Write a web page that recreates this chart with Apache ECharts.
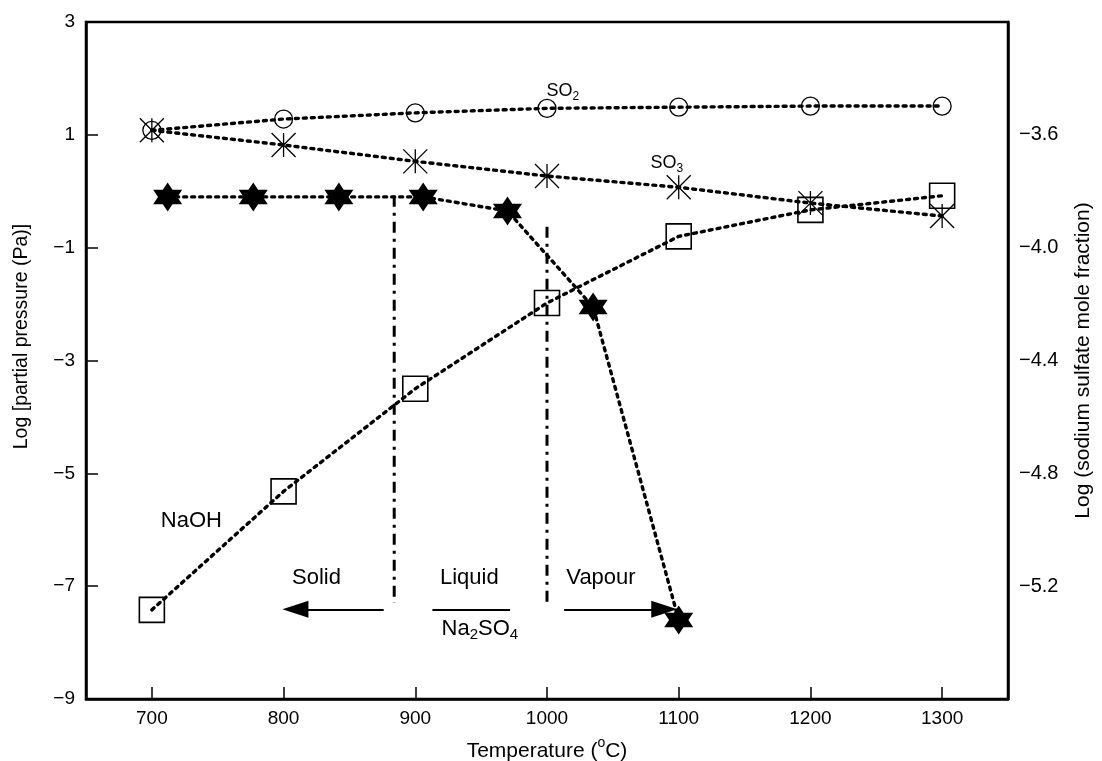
<!DOCTYPE html>
<html><head><meta charset="utf-8">
<script src="https://cdn.jsdelivr.net/npm/echarts@6/dist/echarts.min.js"></script>
<style>html,body{margin:0;padding:0;background:#fff}#c{width:1102px;height:761px}</style>
</head><body><div id="c"></div>
<script>
// ---- data ----
const temps = [700, 800, 900, 1000, 1100, 1200, 1300];
const so2 = [1.08, 1.28, 1.39, 1.47, 1.49, 1.51, 1.51];
const so3 = [1.08, 0.82, 0.53, 0.27, 0.07, -0.21, -0.44];
const naoh = [-7.42, -5.32, -3.5, -1.98, -0.8, -0.33, -0.08];
const na2so4Temps = [712, 777, 842, 906, 970, 1035, 1100];
const na2so4Frac = [-3.82, -3.82, -3.82, -3.82, -3.87, -4.21, -5.32];
const boundaryTemps = [884, 1000];
const boundaryTop = [-0.08, -0.63];
const boundaryBottom = [-7.3, -7.3];
const xTicks = [700, 800, 900, 1000, 1100, 1200, 1300];
const leftTicks = [-9, -7, -5, -3, -1, 1, 3];
const rightTicks = [-5.2, -4.8, -4.4, -4.0, -3.6];
// annotations
const noteText = ['{u|SO}{v|2}', '{u|SO}{v|3}', '{t|NaOH}', '{t|Solid}', '{t|Liquid}', '{t|Vapour}', '{t|Na}{s|2}{t|SO}{s|4}'];
const noteT = [1012, 1091, 730, 825, 941, 1041, 949];
const noteY = [1.76, 0.49, -5.86, -6.87, -6.87, -6.87, -7.77];
const arrowY = -7.41;
const arrowFrom = [876, 1013];
const arrowTo = [809, 1089];
const liquidBar = [913, 972];

const FONT = 'Liberation Sans, Arial, Helvetica, sans-serif';
const pair = (xs, ys) => xs.map((x, i) => [x, ys[i]]);
const minus = s => String(s).replace('-', '\u2212');

const dotted = { color: '#000', width: 3.4, type: [3, 5], cap: 'round' };
const hollow = { color: 'rgba(0,0,0,0)', borderColor: '#000', borderWidth: 1.3, opacity: 1 };

const SYM_CIRCLE = 'path://M20,10A10,10 0 1 1 0,10A10,10 0 1 1 20,10Z';
const SYM_SQUARE = 'path://M0,0L20,0L20,20L0,20Z';
const SYM_AST = 'path://M10,0L10,20M0,0L20,20M0,20L20,0';
const SYM_STAR = 'path://M10,0L12.887,5L18.66,5L15.774,10L18.66,15L12.887,15L10,20L7.113,15L1.34,15L4.226,10L1.34,5L7.113,5Z';

const rich = {
  t: { fontSize: 22, color: '#000', fontFamily: FONT, verticalAlign: 'top', lineHeight: 24 },
  s: { fontSize: 15, color: '#000', fontFamily: FONT, verticalAlign: 'top', padding: [10, 0, 0, 0], lineHeight: 16 },
  u: { fontSize: 18, color: '#000', fontFamily: FONT, verticalAlign: 'top', lineHeight: 20 },
  v: { fontSize: 12, color: '#000', fontFamily: FONT, verticalAlign: 'top', padding: [9, 0, 0, 0], lineHeight: 13 }
};

const chart = echarts.init(document.getElementById('c'), null, { renderer: 'canvas' });
const boundarySeries = boundaryTemps.map((t, i) => ({
  type: 'line', yAxisIndex: 0, silent: true, symbol: 'none',
  data: [[t, boundaryTop[i]], [t, boundaryBottom[i]]],
  lineStyle: { color: '#000', width: 3, type: [11, 6, 3, 6] }, z: 1
}));

chart.setOption({
  animation: false,
  backgroundColor: '#fff',
  textStyle: { fontFamily: FONT },
  grid: { left: 86, right: 94, top: 22, bottom: 62, containLabel: false, outerBoundsMode: 'none', show: true, borderColor: '#000', borderWidth: 2.5, backgroundColor: 'transparent' },
  xAxis: {
    type: 'value', min: 650, max: 1350,
    name: '{a|Temperature (}{b|o}{a|C)}', nameLocation: 'middle', nameGap: 37,
    nameTextStyle: { rich: { a: { fontSize: 21, color: '#000', fontFamily: FONT, verticalAlign: 'top', padding: [5, 0, 0, 0] }, b: { fontSize: 14, color: '#000', fontFamily: FONT, verticalAlign: 'top' } } },
    axisLine: { show: true, onZero: false, lineStyle: { color: '#000', width: 2.5 } },
    axisTick: { show: true, inside: true, length: 12, customValues: xTicks, lineStyle: { color: '#000', width: 1.5 } },
    axisLabel: { customValues: xTicks, formatter: v => String(v), fontSize: 19, color: '#000', margin: 10, fontFamily: FONT },
    splitLine: { show: false }
  },
  yAxis: [{
    type: 'value', min: -9, max: 3, position: 'left',
    name: 'Log [partial pressure (Pa)]', nameLocation: 'middle', nameGap: 54, nameRotate: 90,
    nameTextStyle: { fontSize: 19.5, color: '#000', fontFamily: FONT, padding: [0, 0, 0, 48] },
    axisLine: { show: true, onZero: false, lineStyle: { color: '#000', width: 2.5 } },
    axisTick: { show: true, inside: true, length: 12, customValues: leftTicks, lineStyle: { color: '#000', width: 1.5 } },
    axisLabel: { customValues: leftTicks, formatter: v => minus(v), fontSize: 19, color: '#000', margin: 11, fontFamily: FONT },
    splitLine: { show: false }
  }, {
    type: 'value', min: -5.6, max: -3.2, position: 'right',
    name: 'Log (sodium sulfate mole fraction)', nameLocation: 'middle', nameGap: 65, nameRotate: 90,
    nameTextStyle: { fontSize: 21, color: '#000', fontFamily: FONT },
    axisLine: { show: true, onZero: false, lineStyle: { color: '#000', width: 2.5 } },
    axisTick: { show: false },
    axisLabel: { customValues: rightTicks, formatter: v => minus(v.toFixed(1)), fontSize: 20, color: '#000', margin: 11, fontFamily: FONT },
    splitLine: { show: false }
  }],
  series: [
    ...boundarySeries,
    { name: 'SO2', type: 'line', yAxisIndex: 0, silent: true, data: pair(temps, so2),
      symbol: SYM_CIRCLE, symbolSize: 18, showAllSymbol: true, itemStyle: hollow, lineStyle: dotted, z: 3 },
    { name: 'SO3', type: 'line', yAxisIndex: 0, silent: true, data: pair(temps, so3),
      symbol: SYM_AST, symbolSize: 24, showAllSymbol: true, itemStyle: hollow, lineStyle: dotted, z: 3 },
    { name: 'NaOH', type: 'line', yAxisIndex: 0, silent: true, data: pair(temps, naoh),
      symbol: SYM_SQUARE, symbolSize: 25, showAllSymbol: true, itemStyle: { color: 'rgba(0,0,0,0)', borderColor: '#000', borderWidth: 1.6 }, lineStyle: dotted, z: 3 },
    { name: 'Na2SO4', type: 'line', yAxisIndex: 1, silent: true, data: pair(na2so4Temps, na2so4Frac),
      symbol: SYM_STAR, symbolSize: [29, 29], showAllSymbol: true, itemStyle: { color: '#000' }, lineStyle: dotted, z: 4 },
    { name: 'notes', type: 'scatter', yAxisIndex: 0, silent: true, symbolSize: 1,
      itemStyle: { color: 'rgba(0,0,0,0)', opacity: 1 },
      data: noteT.map((t, i) => ({ value: [t, noteY[i]], label: { formatter: noteText[i] } })),
      label: { show: true, position: 'inside', color: '#000', textBorderWidth: 0, rich: rich },
      markLine: {
        silent: true, animation: false, symbol: ['none', 'triangle'], symbolSize: [17, 26],
        label: { show: false },
        lineStyle: { color: '#000', width: 2, type: 'solid', opacity: 1 },
        itemStyle: { color: '#000' },
        data: [
          [{ coord: [arrowFrom[0], arrowY] }, { coord: [arrowTo[0], arrowY] }],
          [{ coord: [arrowFrom[1], arrowY] }, { coord: [arrowTo[1], arrowY] }],
          [{ coord: [liquidBar[0], arrowY], symbol: 'none' }, { coord: [liquidBar[1], arrowY], symbol: 'none' }]
        ]
      }
    }
  ]
});
</script></body></html>
